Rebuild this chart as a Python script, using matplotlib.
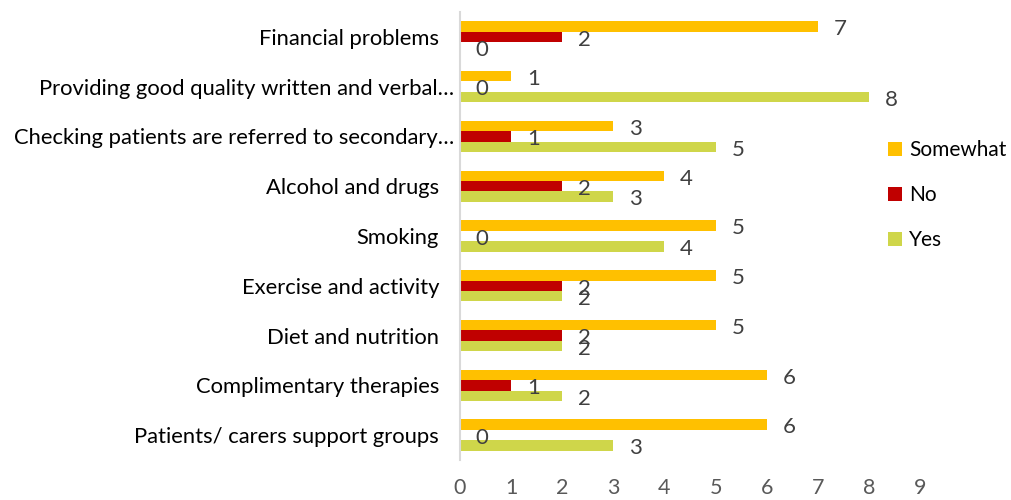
import numpy as np
import matplotlib.pyplot as plt
from matplotlib.transforms import ScaledTranslation

# categories top to bottom
categories = [
    "Financial problems",
    "Providing good quality written and verbal\u2026",
    "Checking patients are referred to secondary\u2026",
    "Alcohol and drugs",
    "Smoking",
    "Exercise and activity",
    "Diet and nutrition",
    "Complimentary therapies",
    "Patients/ carers support groups",
]
somewhat = [7, 1, 3, 4, 5, 5, 5, 6, 6]
no = [2, 0, 1, 2, 0, 2, 2, 1, 0]
yes = [0, 8, 5, 3, 4, 2, 2, 2, 3]

series = [("Somewhat", somewhat, "#FFC000"),
          ("No", no, "#C00000"),
          ("Yes", yes, "#CFD64A")]

plt.rcParams['font.family'] = ['Lato', 'DejaVu Sans']

fig = plt.figure(figsize=(10.11, 5.0), dpi=100)
ax = fig.add_axes([0.455, 0.08, 0.455, 0.896])

y = np.arange(len(categories))
h = 0.21
offsets = [-h, 0, h]
for (name, vals, col), off in zip(series, offsets):
    pos = y + off
    ax.barh(pos, vals, height=h, color=col, label=name)
    for p, v in zip(pos, vals):
        ax.annotate(str(v), (v, p), xytext=(16, -2), textcoords="offset points",
                    ha="center", va="center", fontsize=16, color="#404040")

ax.set_ylim(len(categories) - 0.5, -0.5)
ax.set_xlim(0, 9)
ax.set_xticks(range(10))
ax.set_yticks(y)
ax.set_yticklabels(categories, fontsize=15.8, color="#000000")
ax.tick_params(axis="y", length=0, pad=15)
ax.tick_params(axis="x", length=0, pad=13, labelsize=15.5, labelcolor="#595959")
# truncated labels sit a little closer to the axis, as in the original
for lbl in ax.get_yticklabels():
    if lbl.get_text().endswith("\u2026"):
        lbl.set_transform(lbl.get_transform() + ScaledTranslation(0.15, 0, fig.dpi_scale_trans))
for s in ["top", "right", "bottom"]:
    ax.spines[s].set_visible(False)
ax.spines["left"].set_color("#D9D9D9")
ax.spines["left"].set_linewidth(1.5)

handles, labels = ax.get_legend_handles_labels()
fig.legend(handles, labels, loc="center left", bbox_to_anchor=(0.86, 0.61),
           frameon=False, fontsize=15, handlelength=0.65, handleheight=0.65,
           handletextpad=0.35, labelspacing=1.2)

fig.savefig("out.png", dpi=100)
